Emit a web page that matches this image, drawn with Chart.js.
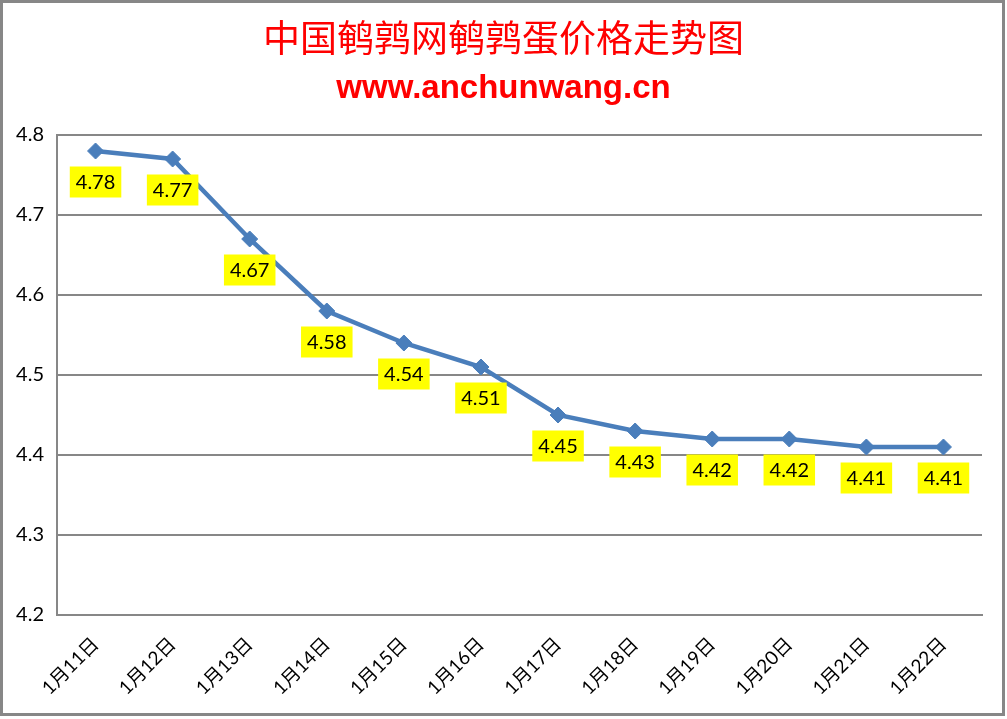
<!DOCTYPE html>
<html>
<head>
<meta charset="utf-8">
<script src="https://cdn.jsdelivr.net/npm/chart.js@4.4.1/dist/chart.umd.min.js"></script>
<style>
    html, body { margin: 0; padding: 0; background: #fff; }
    #wrap { width: 1007px; height: 719px; }
</style>
</head>
<body>
<div id="wrap"><canvas id="myChart" width="1007" height="719"></canvas></div>
<script>
// data
const categories = ['1月11日', '1月12日', '1月13日', '1月14日', '1月15日', '1月16日', '1月17日', '1月18日', '1月19日', '1月20日', '1月21日', '1月22日'];
const prices = [4.78, 4.77, 4.67, 4.58, 4.54, 4.51, 4.45, 4.43, 4.42, 4.42, 4.41, 4.41];
const yTicks = [4.2, 4.3, 4.4, 4.5, 4.6, 4.7, 4.8];

const titleText = '中国鹌鹑网鹌鹑蛋价格走势图';
const subtitleText = 'www.anchunwang.cn';

const gridGray = '#878787';
const labelFont = "Lato, 'Noto Sans CJK SC', sans-serif";

document.addEventListener('DOMContentLoaded', () => {

    const ctx = document.getElementById('myChart').getContext('2d');

    // white page + grey frame around the whole chart
    const framePlugin = {
        id: 'frame',
        afterLayout(chart) {
            // center the titles on the full canvas, not the padded area
            chart.boxes.forEach(box => {
                if (box.fullSize && box.position === 'top') {
                    box.left = 0;
                    box.right = chart.width;
                }
            });
        },
        beforeDraw(chart) {
            const c = chart.ctx;
            c.save();
            c.fillStyle = '#fff';
            c.fillRect(0, 0, chart.width, chart.height);
            c.strokeStyle = gridGray;
            c.lineWidth = 3;
            c.strokeRect(1.5, 1.5, chart.width - 5, chart.height - 6);
            c.restore();
        }
    };

    // yellow value boxes under each point
    const valueBoxes = {
        id: 'valueBoxes',
        afterDatasetsDraw(chart) {
            const c = chart.ctx;
            const meta = chart.getDatasetMeta(0);
            c.save();
            c.font = '20px ' + labelFont;
            c.textAlign = 'center';
            c.textBaseline = 'middle';
            meta.data.forEach((pt, i) => {
                const txt = prices[i].toFixed(2);
                const w = c.measureText(txt).width + 12;
                const h = 31;
                const cx = pt.x;
                const cy = pt.y + 31;
                c.fillStyle = '#ffff00';
                c.fillRect(cx - w / 2, cy - h / 2, w, h);
                c.fillStyle = '#000';
                c.fillText(txt, cx, cy + 1);
            });
            c.restore();
        }
    };

    const data = {
        labels: categories,
        datasets: [{
            label: '价格',
            data: prices,
            borderColor: '#4a7ebb',
            borderWidth: 4.5,
            pointStyle: 'rectRot',
            pointRadius: 8,
            pointHoverRadius: 8,
            pointBackgroundColor: '#4a7ebb',
            pointBorderColor: '#4a7ebb',
            pointBorderWidth: 1,
            tension: 0,
            fill: false
        }]
    };

    const options = {
        responsive: false,
        animation: false,
        devicePixelRatio: 1,
        layout: {
            padding: { left: 0, right: 25, top: 0, bottom: 0 }
        },
        plugins: {
            legend: { display: false },
            tooltip: { enabled: false },
            title: {
                display: true,
                text: titleText,
                color: '#ff0000',
                font: { family: "'Noto Sans CJK SC', sans-serif", size: 37, weight: 'normal', lineHeight: 1.2 },
                padding: { top: 16, bottom: 0 }
            },
            subtitle: {
                display: true,
                text: subtitleText,
                color: '#ff0000',
                font: { family: "'Liberation Sans', Arial, sans-serif", size: 33, weight: 'bold', lineHeight: 1.2 },
                padding: { top: 9, bottom: 26 }
            }
        },
        scales: {
            x: {
                offset: true,
                grid: { display: false, drawTicks: false },
                border: { display: true, color: gridGray, width: 2 },
                ticks: {
                    color: '#000',
                    font: { family: labelFont, size: 19 },
                    maxRotation: 45,
                    minRotation: 45,
                    autoSkip: false,
                    padding: 18
                },
                afterFit(scale) { scale.height = 104; }
            },
            y: {
                min: 4.2,
                max: 4.8,
                afterBuildTicks(scale) { scale.ticks = yTicks.map(v => ({ value: v })); },
                grid: { color: gridGray, lineWidth: 2, drawTicks: false },
                border: { display: true, color: gridGray, width: 2 },
                ticks: {
                    color: '#000',
                    font: { family: labelFont, size: 20 },
                    padding: 13,
                    callback: v => v.toFixed(1)
                },
                afterFit(scale) { scale.width = 57; }
            }
        }
    };

    new Chart(ctx, {
        type: 'line',
        data: data,
        options: options,
        plugins: [framePlugin, valueBoxes]
    });
})
</script>
</body>
</html>
